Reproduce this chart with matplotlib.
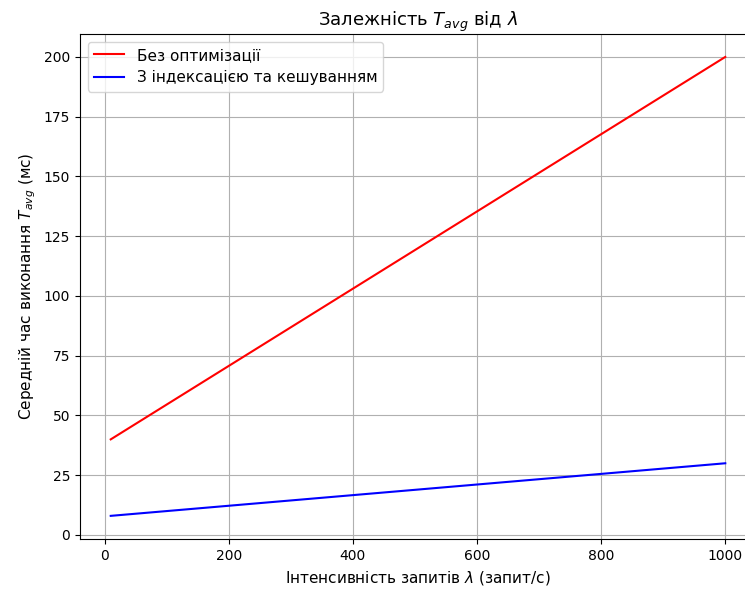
import matplotlib
matplotlib.use("Agg")
import matplotlib.pyplot as plt

lam = [10, 1000]
t_no_opt = [40, 200]
t_opt = [8, 30]

fig = plt.figure(figsize=(7.45, 5.9), dpi=100)
ax = fig.add_axes([80/745, 51.2/590, 676/745, 504.8/590])
ax.plot(lam, t_no_opt, color='red', label='Без оптимізації')
ax.plot(lam, t_opt, color='blue', label='З індексацією та кешуванням')
ax.set_title(r'Залежність $T_{avg}$ від $\lambda$', fontsize=13)
ax.set_xlabel(r'Інтенсивність запитів $\lambda$ (запит/с)', fontsize=11)
ax.set_ylabel(r'Середній час виконання $T_{avg}$ (мс)', fontsize=11)
ax.grid(True)
ax.legend(loc='upper left', fontsize=11)
fig.savefig('out.png', dpi=100)
